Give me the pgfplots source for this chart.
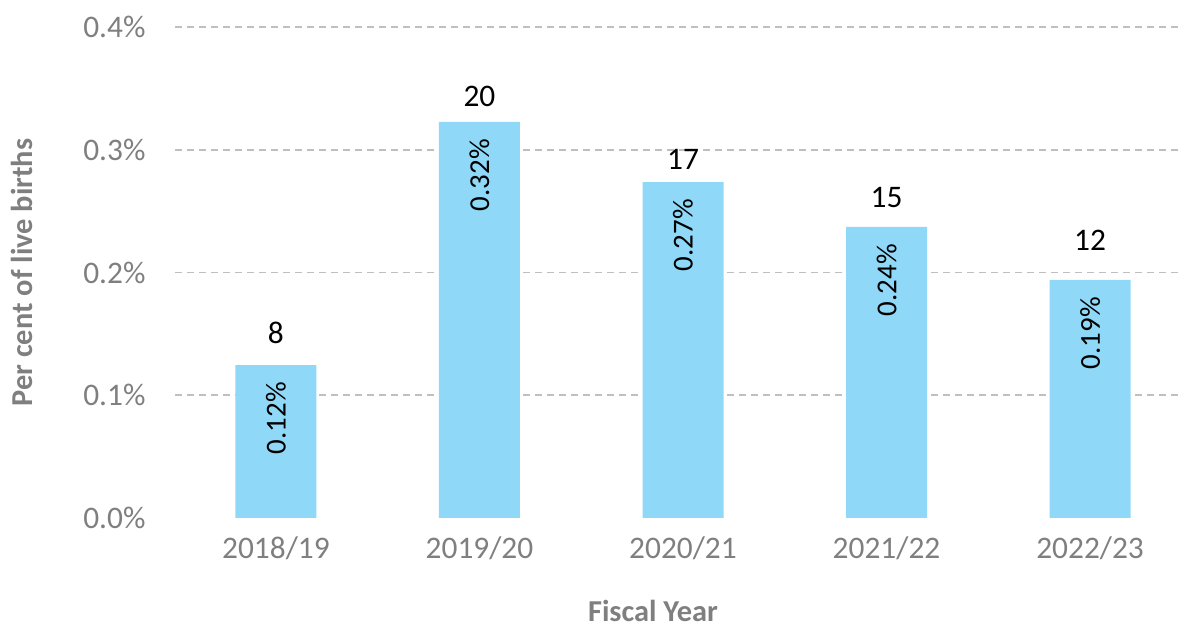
\documentclass[border=0pt]{standalone}
\usepackage{pgfplots}
\pgfplotsset{compat=1.18}
\usepackage{pgfplotstable}
\usepackage{fontspec}
\setmainfont{Carlito}
\definecolor{barblue}{HTML}{8FD8F7}
\definecolor{ticktxt}{HTML}{7F7F7F}
\definecolor{gridc}{HTML}{BFBFBF}
\pgfplotstableread{
x y n lbl ly
0 0.1246 8 0.12\% 0.1511
1 0.3226 20 0.32\% 0.3438
2 0.2737 17 0.27\% 0.2925
3 0.2371 15 0.24\% 0.2607
4 0.1939 12 0.19\% 0.2261
}\data
\begin{document}
\begin{tikzpicture}[x=1bp,y=1bp]
\useasboundingbox (0,0) rectangle (1185,628);
\begin{axis}[
  at={(175bp,110bp)}, anchor=south west,
  scale only axis, width=1005bp, height=491bp,
  xmin=-0.496, xmax=4.442, ymin=0, ymax=0.4,
  axis line style={draw=none},
  major tick length=0pt,
  xtick={0,1,2,3,4},
  xticklabels={2018/19,2019/20,2020/21,2021/22,2022/23},
  ytick={0.1,0.2,0.3,0.4},
  yticklabels={0.1\%,0.2\%,0.3\%,0.4\%},
  extra y ticks={0}, extra y tick labels={0.0\%},
  extra y tick style={grid=none},
  ymajorgrids,
  grid style={gridc, line width=1.6bp, dash pattern=on 7bp off 5bp},
  /pgf/number format/assume math mode=true,
  tick label style={font=\fontsize{31.5}{36}\selectfont, text=ticktxt},
  yticklabel style={xshift=-26bp},
  xticklabel style={yshift=-15bp},
  xlabel={Fiscal Year}, ylabel={Per cent of live births},
  label style={font=\fontsize{30.5}{36}\selectfont\bfseries, text=ticktxt},
  xlabel style={at={(axis description cs:0.4756,0)}, anchor=center, yshift=-93bp},
  ylabel style={at={(axis description cs:-0.1522,0.5)}, anchor=center},
  clip=false,
]
\addplot[ybar, bar width=81bp, bar shift=0pt, fill=barblue, draw=none,
  point meta=explicit symbolic,
  nodes near coords,
  nodes near coords style={font=\fontsize{29}{34}\selectfont, text=black, inner sep=0pt, anchor=east, yshift=-17bp, rotate=90}]
  table[x=x, y=y, meta=lbl] {\data};
\addplot[draw=none, mark=none,
  point meta=explicit symbolic,
  nodes near coords,
  nodes near coords style={font=\fontsize{31.5}{36}\selectfont, text=black, inner sep=0pt, anchor=center}]
  table[x=x, y=ly, meta=n] {\data};
\end{axis}
\end{tikzpicture}
\end{document}
